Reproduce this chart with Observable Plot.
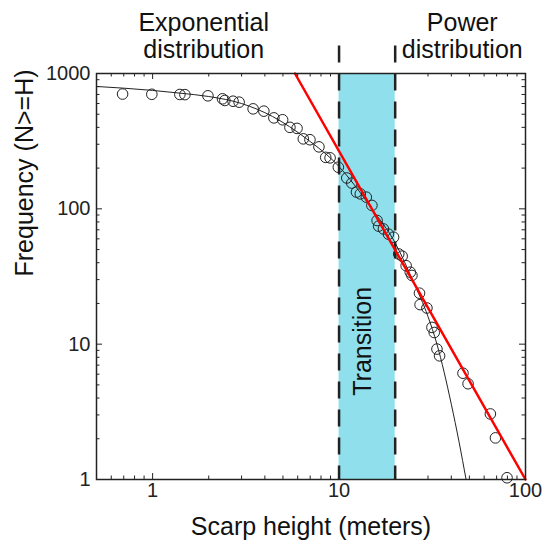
<!DOCTYPE html>
<html><head><meta charset="utf-8">
<script src="https://cdn.jsdelivr.net/npm/d3@7"></script>
<script src="https://cdn.jsdelivr.net/npm/@observablehq/plot@0.6"></script>
<style>
body{margin:0;background:#fff}
#chart{width:542px;height:541px}
</style>
</head><body><div id="chart"></div>
<script>
// Observed scarp heights (m) and cumulative frequency N>=H
const scarpHeight = [0.69,0.99,1.40,1.49,1.98,2.37,2.44,2.70,2.91,3.46,3.95,4.47,4.98,5.45,5.95,6.43,6.98,7.8,8.48,8.95,9.91,11.0,11.7,12.4,13.0,14.0,15.0,16.0,16.3,17.3,18.4,19.6,20.9,21.8,22.9,24.1,24.6,27.0,27.2,29.6,31.5,32.4,33.5,34.6,46.2,49.2,64.8,69.0,79.6];
const frequency   = [705,702,700,698,684,650,632,624,614,548,527,470,455,400,393,329,324,287,240,238,203,169,155,133,129,122,106,82,74.5,71,65,61.7,46.4,44.7,38,34,32.2,23.8,19.6,18.5,13.3,12.2,9.2,8.2,6.1,5.1,3.05,2.03,1.03];

// Exponential fit curve
const expFitH = [0.5,1,1.4,2,3,4.4,6.7,10,12,15,20,25,30,33.5,40,44,48];
const expFitN = [802,750,716,676,600,481,329,205,152,100,56,29,16,10,3.6,1.9,1];

// Power-law fit line
const powFitH = [5.8,100];
const powFitN = [1000,1];

// Transition band
const transitionBand = [10,20];
const transitionLabel = ["Transition"];
const transitionLabelPos = [14.1,10.5];

// Annotations above plot
const topLabelLine1 = ["Exponential","Power"];
const topLabelLine2 = ["distribution","distribution"];
const topLabelX = [1.88,45.8];

// Ticks
const xTickLabels = [1,10,100];
const yTickLabels = [1,10,100,1000];
const xMinorTicks = [0.5,0.6,0.7,0.8,0.9,2,3,4,5,6,7,8,9,20,30,40,50,60,70,80,90];
const yMinorTicks = [2,3,4,5,6,7,8,9,20,30,40,50,60,70,80,90,200,300,400,500,600,700,800,900];

const xTitle = "Scarp height (meters)";
const yTitle = "Frequency (N>=H)";

const points = scarpHeight.map((h,i)=>({h, n: frequency[i]}));
const expFit = expFitH.map((h,i)=>({h, n: expFitN[i]}));
const powFit = powFitH.map((h,i)=>({h, n: powFitN[i]}));

const W = 542, H = 541, mL = 96, mR = 17, mT = 73, mB = 62;
const pw = W - mL - mR, ph = H - mT - mB;
const majorLen = 6, minorLen = 3.5;
const font = "'Liberation Sans', Arial, Helvetica, sans-serif";
const ink = "#222";

const chart = Plot.plot({
  width: W, height: H,
  marginLeft: mL, marginRight: mR, marginTop: mT, marginBottom: mB,
  style: {fontFamily: font, fontSize: "20px", color: ink, background: "#fff", overflow: "visible"},
  x: {type: "log", domain: [0.5, 100]},
  y: {type: "log", domain: [1, 1000]},
  marks: [
    Plot.rect([transitionBand], {x1: d => d[0], x2: d => d[1], fill: "#8fe0ec"}),
    Plot.ruleX(transitionBand, {x: d => d, y1: 1600, y2: 1, stroke: ink, strokeWidth: 2.5, strokeDasharray: "17,11", clip: false}),
    Plot.line(expFit, {x: "h", y: "n", stroke: ink, strokeWidth: 1, curve: "monotone-x"}),
    Plot.dot(points, {x: "h", y: "n", r: 5.3, stroke: ink, strokeWidth: 1, fill: "none"}),
    Plot.line(powFit, {x: "h", y: "n", stroke: "#f00", strokeWidth: 2.5}),
    // inward ticks: bottom / top
    Plot.tickX(xMinorTicks, {x: d => d, insetTop: ph - minorLen, stroke: ink, strokeWidth: 1}),
    Plot.tickX(xMinorTicks, {x: d => d, insetBottom: ph - minorLen, stroke: ink, strokeWidth: 1}),
    Plot.tickX(xTickLabels, {x: d => d, insetTop: ph - majorLen, stroke: ink, strokeWidth: 1}),
    Plot.tickX(xTickLabels, {x: d => d, insetBottom: ph - majorLen, stroke: ink, strokeWidth: 1}),
    // inward ticks: left / right
    Plot.tickY(yMinorTicks, {y: d => d, insetRight: pw - minorLen, stroke: ink, strokeWidth: 1}),
    Plot.tickY(yMinorTicks, {y: d => d, insetLeft: pw - minorLen, stroke: ink, strokeWidth: 1}),
    Plot.tickY(yTickLabels, {y: d => d, insetRight: pw - majorLen, stroke: ink, strokeWidth: 1}),
    Plot.tickY(yTickLabels, {y: d => d, insetLeft: pw - majorLen, stroke: ink, strokeWidth: 1}),
    Plot.frame({stroke: ink, strokeWidth: 1.5}),
    Plot.axisX({ticks: xTickLabels, tickSize: 0, tickPadding: 3, tickFormat: String, label: null, fontSize: 20}),
    Plot.axisY({ticks: yTickLabels, tickSize: 0, tickPadding: 6, tickFormat: String, label: null, fontSize: 20}),
    Plot.text(transitionLabel, {x: transitionLabelPos[0], y: transitionLabelPos[1], rotate: -90, lineAnchor: "bottom", dx: 4, fontSize: 25, fill: "#111"}),
    Plot.text(topLabelLine1, {x: (d,i) => topLabelX[i], frameAnchor: "top", lineAnchor: "bottom", dy: -43, fontSize: 25, fill: "#111", clip: false}),
    Plot.text(topLabelLine2, {x: (d,i) => topLabelX[i], frameAnchor: "top", lineAnchor: "bottom", dy: -16, fontSize: 25, fill: "#111", clip: false}),
    Plot.text([xTitle], {frameAnchor: "bottom", lineAnchor: "bottom", dy: 55, fontSize: 25, fill: "#111"}),
    Plot.text([yTitle], {frameAnchor: "left", lineAnchor: "bottom", rotate: -90, dx: -64, fontSize: 25, fill: "#111"})
  ]
});
document.getElementById("chart").appendChild(chart);
</script>
</body></html>
